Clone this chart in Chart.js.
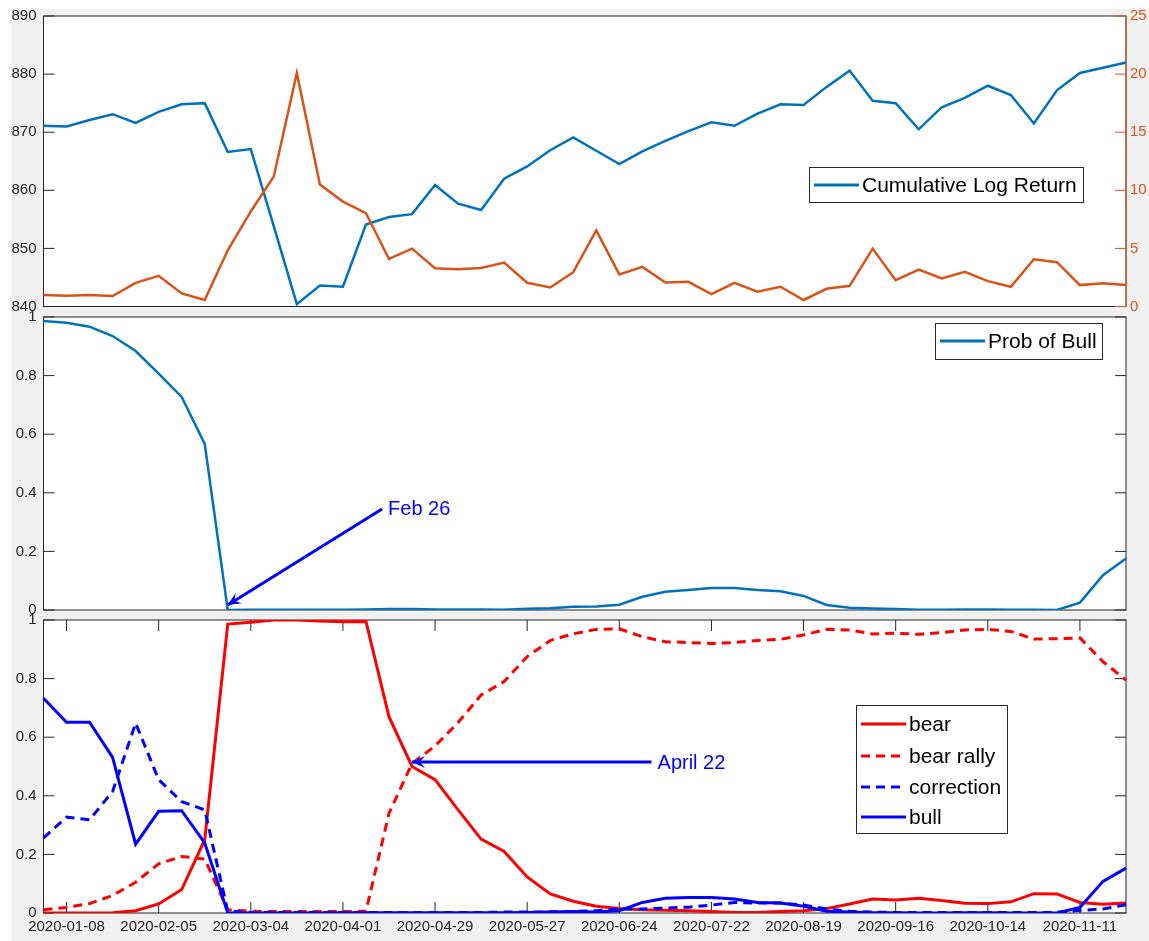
<!doctype html>
<html lang="en">
<head>
<meta charset="utf-8">
<title>State probability estimates</title>
<script src="https://cdn.jsdelivr.net/npm/chart.js"></script>
<style>
  html, body { margin: 0; padding: 0; background: #fff; }
  #fig { position: relative; width: 1149px; height: 941px; overflow: hidden; }
  #bg { position: absolute; left: 11px; top: 9px; right: 0; bottom: 0; background: #f0f0f0; }
  canvas { position: absolute; left: 0; top: 0; }
</style>
</head>
<body>
<div id="fig">
  <div id="bg"></div>
  <canvas id="topChart" width="1149" height="941"></canvas>
  <canvas id="midChart" width="1149" height="941"></canvas>
  <canvas id="botChart" width="1149" height="941"></canvas>
</div>
<script>
  // weekly dates, one per observation
  const dates = [
    '2020-01-01', '2020-01-08', '2020-01-15', '2020-01-22', '2020-01-29', '2020-02-05', '2020-02-12', '2020-02-19',
    '2020-02-26', '2020-03-04', '2020-03-11', '2020-03-18', '2020-03-25', '2020-04-01', '2020-04-08', '2020-04-15',
    '2020-04-22', '2020-04-29', '2020-05-06', '2020-05-13', '2020-05-20', '2020-05-27', '2020-06-03', '2020-06-10',
    '2020-06-17', '2020-06-24', '2020-07-01', '2020-07-08', '2020-07-15', '2020-07-22', '2020-07-29', '2020-08-05',
    '2020-08-12', '2020-08-19', '2020-08-26', '2020-09-02', '2020-09-09', '2020-09-16', '2020-09-23', '2020-09-30',
    '2020-10-07', '2020-10-14', '2020-10-21', '2020-10-28', '2020-11-04', '2020-11-11', '2020-11-18', '2020-11-25'
  ];
  const shownDates = ['2020-01-08', '2020-02-05', '2020-03-04', '2020-04-01', '2020-04-29', '2020-05-27',
    '2020-06-24', '2020-07-22', '2020-08-19', '2020-09-16', '2020-10-14', '2020-11-11'];

  // top panel
  const cumLogReturn = [871.1, 871.0, 872.1, 873.1, 871.6, 873.5, 874.8, 875.0, 866.6, 867.1,
    853.8, 840.4, 843.6, 843.4, 854.1, 855.4, 855.9, 860.9, 857.7, 856.6,
    862.0, 864.1, 866.9, 869.1, 866.8, 864.5, 866.7, 868.5, 870.2, 871.7,
    871.1, 873.2, 874.8, 874.7, 877.8, 880.6, 875.4, 875.0, 870.5, 874.3,
    875.9, 878.0, 876.4, 871.5, 877.2, 880.2, 881.1, 882.0];
  const rightSeries = [0.98, 0.93, 0.98, 0.90, 2.04, 2.64, 1.13, 0.56, 4.84, 8.18,
    11.2, 20.1, 10.49, 9.03, 8.03, 4.09, 4.98, 3.30, 3.21, 3.32,
    3.78, 2.04, 1.64, 2.95, 6.55, 2.76, 3.41, 2.07, 2.12, 1.07,
    2.04, 1.27, 1.70, 0.56, 1.52, 1.78, 4.98, 2.27, 3.18, 2.41,
    2.98, 2.18, 1.70, 4.07, 3.81, 1.84, 1.99, 1.84];
  const leftTicks = [840, 850, 860, 870, 880, 890];
  const rightTicks = [0, 5, 10, 15, 20, 25];

  // middle panel
  const probBull = [0.986, 0.98, 0.967, 0.935, 0.884, 0.807, 0.727, 0.567, 0.0, 0.001,
    0.001, 0.001, 0.001, 0.001, 0.002, 0.003, 0.003, 0.002, 0.002, 0.002,
    0.001, 0.004, 0.006, 0.011, 0.012, 0.018, 0.045, 0.062, 0.068, 0.075,
    0.075, 0.068, 0.064, 0.048, 0.017, 0.008, 0.005, 0.003, 0.001, 0.001,
    0.002, 0.002, 0.001, 0.001, 0.0, 0.025, 0.119, 0.176];
  const probTicks = [0, 0.2, 0.4, 0.6, 0.8, 1];

  // bottom panel
  const bear = [0, 0, 0, 0.001, 0.008, 0.031, 0.08, 0.25, 0.986, 0.992,
    1.0, 1.0, 0.997, 0.994, 0.995, 0.67, 0.5, 0.455, 0.352, 0.252,
    0.21, 0.123, 0.065, 0.04, 0.023, 0.015, 0.011, 0.009, 0.008, 0.005,
    0.002, 0.002, 0.005, 0.008, 0.015, 0.031, 0.048, 0.044, 0.05, 0.043,
    0.033, 0.032, 0.038, 0.066, 0.065, 0.036, 0.03, 0.034];
  const bearRally = [0.011, 0.019, 0.032, 0.06, 0.105, 0.168, 0.193, 0.184, 0.011, 0.006,
    0.005, 0.005, 0.005, 0.005, 0.006, 0.34, 0.51, 0.57, 0.65, 0.744,
    0.79, 0.875, 0.93, 0.953, 0.968, 0.97, 0.943, 0.926, 0.923, 0.92,
    0.923, 0.93, 0.934, 0.949, 0.968, 0.966, 0.952, 0.955, 0.951, 0.957,
    0.966, 0.968, 0.961, 0.935, 0.936, 0.939, 0.858, 0.795];
  const correction = [0.256, 0.327, 0.318, 0.415, 0.648, 0.455, 0.38, 0.352, 0.006, 0.002,
    0.002, 0.002, 0.002, 0.002, 0.002, 0.002, 0.002, 0.002, 0.002, 0.002,
    0.003, 0.003, 0.004, 0.005, 0.008, 0.014, 0.014, 0.017, 0.02, 0.027,
    0.036, 0.034, 0.034, 0.027, 0.014, 0.006, 0.003, 0.002, 0.002, 0.002,
    0.002, 0.002, 0.002, 0.002, 0.002, 0.009, 0.014, 0.028];
  const bull = [0.733, 0.651, 0.651, 0.531, 0.235, 0.347, 0.349, 0.239, 0.0, 0.0,
    0.0, 0.0, 0.0, 0.001, 0.001, 0.001, 0.001, 0.001, 0.001, 0.001,
    0.001, 0.002, 0.003, 0.005, 0.003, 0.008, 0.036, 0.05, 0.053, 0.053,
    0.048, 0.036, 0.034, 0.023, 0.006, 0.003, 0.001, 0.001, 0.0, 0.0,
    0.001, 0.001, 0.0, 0.0, 0.0, 0.019, 0.108, 0.153];

  const AXIS = '#262626';
  const ORANGE = '#D95319';
  const MBLUE = '#0072BD';
  const TICK_LEN = 11;
  const FONT = '"Liberation Sans", Arial, Helvetica, sans-serif';

  Chart.defaults.font.family = FONT;
  Chart.defaults.font.size = 15;
  Chart.defaults.color = AXIS;

  function arrowHead(ctx, x1, y1, x2, y2) {
    const a = Math.atan2(y2 - y1, x2 - x1);
    const len = 13, half = 6;
    const bx = x2 - len * Math.cos(a), by = y2 - len * Math.sin(a);
    const nx = x2 - len * 0.6 * Math.cos(a), ny = y2 - len * 0.6 * Math.sin(a);
    ctx.beginPath();
    ctx.moveTo(x2, y2);
    ctx.lineTo(bx + half * Math.sin(a), by - half * Math.cos(a));
    ctx.lineTo(nx, ny);
    ctx.lineTo(bx - half * Math.sin(a), by + half * Math.cos(a));
    ctx.closePath();
    ctx.fill();
  }

  const framePlugin = {
    id: 'frame',
    beforeDraw(chart) {
      const a = chart.chartArea, ctx = chart.ctx;
      ctx.save();
      ctx.fillStyle = '#fff';
      ctx.fillRect(a.left, a.top, a.right - a.left, a.bottom - a.top);
      ctx.restore();
    },
    beforeDatasetsDraw(chart, args, o) {
      const a = chart.chartArea, ctx = chart.ctx;
      ctx.save();
      ctx.lineWidth = 1;
      ctx.strokeStyle = AXIS;
      ctx.strokeRect(a.left, a.top, a.right - a.left, a.bottom - a.top);
      // y ticks, inward
      const y = chart.scales.y;
      ctx.beginPath();
      y.ticks.forEach(t => {
        const py = y.getPixelForValue(t.value);
        ctx.moveTo(a.left, py); ctx.lineTo(a.left + TICK_LEN, py);
        if (o.mirrorY) { ctx.moveTo(a.right, py); ctx.lineTo(a.right - TICK_LEN, py); }
      });
      ctx.stroke();
      if (chart.scales.y1) {
        const y1 = chart.scales.y1;
        ctx.strokeStyle = ORANGE;
        ctx.beginPath();
        ctx.moveTo(a.right, a.top); ctx.lineTo(a.right, a.bottom);
        y1.ticks.forEach(t => {
          const py = y1.getPixelForValue(t.value);
          ctx.moveTo(a.right, py); ctx.lineTo(a.right - TICK_LEN, py);
        });
        ctx.stroke();
      }
      if (o.xTicks) {
        const x = chart.scales.x;
        ctx.strokeStyle = AXIS;
        ctx.beginPath();
        dates.forEach((d, i) => {
          if (!shownDates.includes(d)) return;
          const px = x.getPixelForValue(i);
          ctx.moveTo(px, a.bottom); ctx.lineTo(px, a.bottom - TICK_LEN);
          ctx.moveTo(px, a.top); ctx.lineTo(px, a.top + TICK_LEN);
        });
        ctx.stroke();
      }
      ctx.restore();
    },
    afterDraw(chart, args, o) {
      const ctx = chart.ctx;
      ctx.save();
      (o.arrows || []).forEach(ar => {
        const x = chart.scales.x, y = chart.scales.y;
        const x1 = x.getPixelForValue(ar.from[0]), y1 = y.getPixelForValue(ar.from[1]);
        const x2 = x.getPixelForValue(ar.to[0]), y2 = y.getPixelForValue(ar.to[1]);
        ctx.strokeStyle = '#0000FF';
        ctx.fillStyle = '#0000FF';
        ctx.lineWidth = 3;
        ctx.beginPath(); ctx.moveTo(x1, y1); ctx.lineTo(x2, y2); ctx.stroke();
        arrowHead(ctx, x1, y1, x2, y2);
        ctx.font = '20px ' + FONT;
        ctx.textBaseline = 'middle';
        ctx.textAlign = 'left';
        ctx.fillText(ar.text, x1 + 6, y1 + 1);
      });
      const lg = o.legend;
      if (lg) {
        const b = lg.box;
        ctx.fillStyle = '#fff';
        ctx.fillRect(b[0], b[1], b[2] - b[0], b[3] - b[1]);
        ctx.strokeStyle = AXIS;
        ctx.lineWidth = 1;
        ctx.strokeRect(b[0] + 0.5, b[1] + 0.5, b[2] - b[0], b[3] - b[1]);
        chart.data.datasets.forEach((ds, i) => {
          if (ds.yAxisID === 'y1') return;
          const ry = lg.rows[i];
          ctx.strokeStyle = ds.borderColor;
          ctx.lineWidth = 3;
          ctx.setLineDash(ds.borderDash || []);
          ctx.beginPath(); ctx.moveTo(b[0] + 5, ry); ctx.lineTo(b[0] + 50, ry); ctx.stroke();
          ctx.setLineDash([]);
          ctx.fillStyle = '#000';
          ctx.font = '21px ' + FONT;
          ctx.textBaseline = 'middle';
          ctx.fillText(ds.label, b[0] + 53, ry + 1);
        });
      }
      ctx.restore();
    }
  };

  function yAxis(min, max, step, width) {
    return {
      min: min, max: max,
      grid: { display: false, drawTicks: false },
      border: { display: false },
      ticks: { stepSize: step, padding: 7, callback: v => String(+v.toFixed(2)) },
      afterFit: s => { s.width = width; }
    };
  }

  function xAxis(show) {
    return {
      type: 'category',
      offset: false,
      display: show,
      grid: { display: false, drawTicks: false },
      border: { display: false },
      ticks: {
        autoSkip: false, maxRotation: 0, minRotation: 0, padding: 5,
        callback: (v, i) => shownDates.includes(dates[i]) ? dates[i] : ''
      },
      afterFit: s => { if (show) s.height = 28; }
    };
  }

  function line(label, data, color, width, extra) {
    return Object.assign({
      label: label, data: data, borderColor: color, backgroundColor: color,
      borderWidth: width, pointRadius: 0, tension: 0, fill: false
    }, extra || {});
  }

  const base = {
    responsive: false,
    animation: false,
    devicePixelRatio: 1,
    events: []
  };

  // top: cumulative log return and right-axis series
  new Chart(document.getElementById('topChart'), {
    type: 'line',
    data: {
      labels: dates,
      datasets: [
        line('Cumulative Log Return', cumLogReturn, MBLUE, 2.5, { yAxisID: 'y', order: 1 }),
        line('', rightSeries, ORANGE, 2.5, { yAxisID: 'y1', order: 0 })
      ]
    },
    options: Object.assign({}, base, {
      layout: { padding: { left: 0, right: 0, top: 14.5, bottom: 941 - 306.5 } },
      scales: {
        x: xAxis(false),
        y: Object.assign(yAxis(leftTicks[0], leftTicks[leftTicks.length - 1], 10, 43.5), { position: 'left' }),
        y1: Object.assign(yAxis(rightTicks[0], rightTicks[rightTicks.length - 1], 5, 23), {
          position: 'right',
          ticks: { stepSize: 5, padding: 4, color: ORANGE }
        })
      },
      plugins: {
        legend: { display: false }, tooltip: { enabled: false },
        frame: { legend: { box: [809, 167, 1083, 202], rows: [185] } }
      }
    }),
    plugins: [framePlugin]
  });

  // middle: probability of bull
  new Chart(document.getElementById('midChart'), {
    type: 'line',
    data: {
      labels: dates,
      datasets: [line('Prob of Bull', probBull, MBLUE, 2.5)]
    },
    options: Object.assign({}, base, {
      layout: { padding: { left: 0, right: 23, top: 317, bottom: 941 - 610 } },
      scales: {
        x: xAxis(false),
        y: yAxis(probTicks[0], probTicks[probTicks.length - 1], 0.2, 43.5)
      },
      plugins: {
        legend: { display: false }, tooltip: { enabled: false },
        frame: {
          mirrorY: true,
          legend: { box: [935, 323, 1102, 359], rows: [341] },
          arrows: [{ from: [14.7, 0.345], to: [8, 0.017], text: 'Feb 26' }]
        }
      }
    }),
    plugins: [framePlugin]
  });

  // bottom: regime probabilities
  new Chart(document.getElementById('botChart'), {
    type: 'line',
    data: {
      labels: dates,
      datasets: [
        line('bear', bear, '#FF0000', 3, { order: 3 }),
        line('bear rally', bearRally, '#FF0000', 3, { order: 2, borderDash: [9, 6] }),
        line('correction', correction, '#0000FF', 3, { order: 1, borderDash: [9, 6] }),
        line('bull', bull, '#0000FF', 3, { order: 0 })
      ]
    },
    options: Object.assign({}, base, {
      layout: { padding: { left: 0, right: 23, top: 620, bottom: 0 } },
      scales: {
        x: xAxis(true),
        y: yAxis(probTicks[0], probTicks[probTicks.length - 1], 0.2, 43.5)
      },
      plugins: {
        legend: { display: false }, tooltip: { enabled: false },
        frame: {
          mirrorY: true, xTicks: true,
          legend: { box: [856, 705, 1007, 833], rows: [724, 756, 787, 817] },
          arrows: [{ from: [26.4, 0.515], to: [16, 0.515], text: 'April 22' }]
        }
      }
    }),
    plugins: [framePlugin]
  });
</script>
</body>
</html>
